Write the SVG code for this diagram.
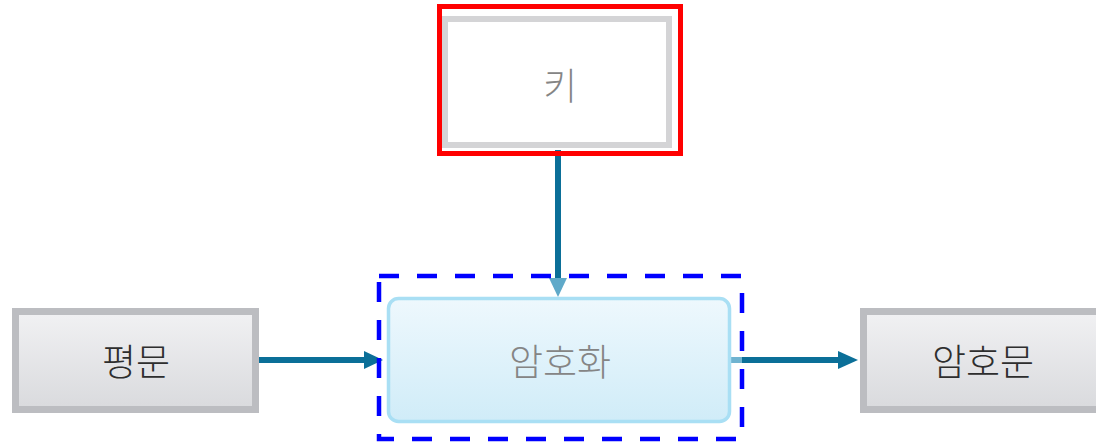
<svg xmlns="http://www.w3.org/2000/svg" width="1096" height="445" viewBox="0 0 1096 445">
<defs>
<linearGradient id="gray" x1="0" y1="0" x2="0" y2="1"><stop offset="0" stop-color="#f1f1f3"/><stop offset="1" stop-color="#d9dadd"/></linearGradient>
<linearGradient id="blue" x1="0" y1="0" x2="0" y2="1"><stop offset="0" stop-color="#eef8fd"/><stop offset="1" stop-color="#d0ecf8"/></linearGradient>
</defs>
<style>
.lbl{font-family:"Noto Sans CJK KR","Noto Sans",sans-serif;font-size:37px;font-weight:300;text-anchor:middle;dominant-baseline:central}
.dark{fill:#2e2e2e}
.gbox{fill:url(#gray);stroke:#bcbdc1;stroke-width:7}
.conn{stroke:#0b6f98;stroke-width:6;fill:none}
.head{fill:#0b6f98}
</style>
<rect width="1096" height="445" fill="#ffffff"/>
<g id="connectors">
<line class="conn" x1="558" y1="150" x2="558" y2="280"/>
<polygon points="549,278 567,278 558,297" fill="#5fa9c9"/>
<line class="conn" x1="258" y1="360" x2="368" y2="360"/>
<polygon class="head" points="364,351 383,360 364,369"/>
<line x1="731" y1="360" x2="742" y2="360" stroke="#6fb3d0" stroke-width="6"/>
<line class="conn" x1="742" y1="360" x2="842" y2="360"/>
<polygon class="head" points="838,351 858,360 838,369"/>
</g>
<g id="key">
<rect x="445" y="19" width="224" height="126" fill="#ffffff" stroke="#d4d4d6" stroke-width="6"/>
<rect x="439.5" y="6.5" width="241" height="147" fill="none" stroke="#ff0000" stroke-width="5"/>
<text class="lbl" x="560" y="84" fill="#858585">키</text>
</g>
<g id="plaintext">
<rect class="gbox" x="15.5" y="311.5" width="240" height="98"/>
<text class="lbl dark" x="136" y="360">평문</text>
</g>
<g id="encrypt">
<rect x="388.5" y="298.5" width="341" height="123" rx="10" fill="url(#blue)" stroke="#a9dff4" stroke-width="3.5"/>
<text class="lbl" x="560" y="360" fill="#858585">암호화</text>
<rect x="379" y="276" width="363" height="163" fill="none" stroke="#0000ff" stroke-width="4.5" stroke-dasharray="20 18"/>
</g>
<g id="ciphertext">
<rect class="gbox" x="863.5" y="311.5" width="240" height="98"/>
<text class="lbl dark" x="983" y="360">암호문</text>
</g>
</svg>
